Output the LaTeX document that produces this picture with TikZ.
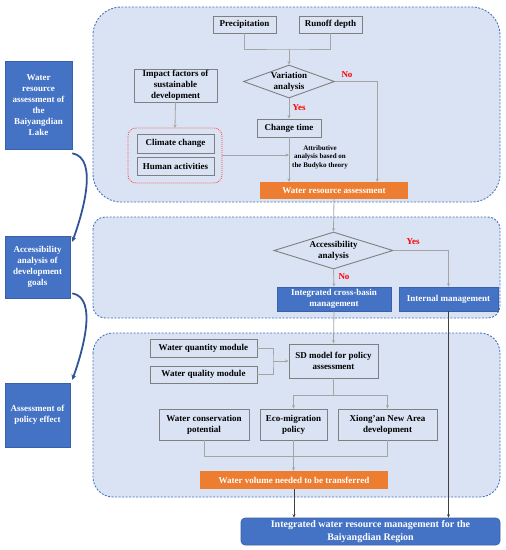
\documentclass[tikz,border=0pt]{standalone}
\usepackage{fontspec}
\setmainfont{Liberation Serif}
\usetikzlibrary{shapes.geometric,arrows.meta}
\definecolor{panelfill}{HTML}{DAE3F3}
\definecolor{panelline}{HTML}{4472C4}
\definecolor{boxblue}{HTML}{4472C4}
\definecolor{boxorange}{HTML}{ED7D31}
\definecolor{boxline}{HTML}{7F7F7F}
\definecolor{linkgray}{HTML}{A5A5A5}
\definecolor{curvblue}{HTML}{2F5597}
\tikzset{
  panel/.style={draw=panelline, fill=panelfill, line width=0.9pt, dash pattern=on 2pt off 1.5pt},
  gbox/.style={draw=boxline, fill=panelfill, line width=0.9pt, inner sep=0pt, align=center, font=\fontsize{9}{11}\selectfont\bfseries},
  bbox/.style={fill=boxblue, draw=boxblue!85!black, line width=0.6pt, text=white, inner sep=0pt, align=center, font=\fontsize{9}{11}\selectfont\bfseries},
  obox/.style={fill=boxorange, inner sep=0pt, text=white, font=\fontsize{9}{11}\selectfont\bfseries},
  dia/.style={diamond, draw=boxline, fill=panelfill, line width=0.9pt, inner sep=0pt},
  dtext/.style={align=center, font=\fontsize{9}{11}\selectfont\bfseries},
  yesno/.style={text=red, font=\fontsize{9}{11}\selectfont\bfseries},
  link/.style={draw=linkgray, line width=0.8pt},
  arr/.style={link, -{Stealth[length=3.5pt, width=3pt]}},
  darr/.style={draw=black!75, line width=0.8pt, -{Stealth[length=3.5pt, width=3pt]}},
  curv/.style={draw=curvblue, line width=1.8pt, -{Stealth[length=5pt, width=5pt]}},
}
\begin{document}
\begin{tikzpicture}[x=1pt, y=-1pt]
\useasboundingbox (0,0) rectangle (506,550);
\pgfmathsetmacro{\pl}{93}
\pgfmathsetmacro{\pr}{500}
% three panels
  \draw[panel, rounded corners=28pt] (\pl,7) rectangle (\pr,202);
  \draw[panel, rounded corners=12pt] (\pl,217) rectangle (\pr,318);
  \draw[panel, rounded corners=20pt] (\pl,333) rectangle (\pr,497);
% left column
  \node[bbox, minimum width=67pt, minimum height=88pt] (left1) at (38.5,105) {Water\\resource\\assessment of\\the\\Baiyangdian\\Lake};
  \node[bbox, minimum width=65pt, minimum height=62pt] (left2) at (37.5,267) {Accessibility\\analysis of\\development\\goals};
  \node[bbox, minimum width=65pt, minimum height=64pt] (left3) at (37.5,415) {Assessment of\\policy effect};
  \draw[curv] ([xshift=0pt, yshift=-4pt]left1.south east) to[out=-10, in=70, looseness=0.8] ([xshift=2pt, yshift=-6pt]left2.north east);
  \draw[curv] ([xshift=2pt, yshift=5pt]left2.south east) to[out=-10, in=70, looseness=0.8] ([xshift=2pt, yshift=3pt]left3.north east);
% top panel
  \node[gbox, minimum width=63pt, minimum height=17pt] (prec) at (244.5,24.5) {Precipitation};
  \node[gbox, minimum width=63pt, minimum height=17pt] (runoff) at (330.5,24.5) {Runoff depth};
  \node[dia, minimum width=91pt, minimum height=33pt, label={[dtext]center:{Variation\\analysis}}] (var) at (289,81.5) {};
  \node[gbox, minimum width=64pt, minimum height=18pt] (change) at (289,128) {Change time};
  \node[gbox, minimum width=83pt, minimum height=33pt] (impact) at (175.5,85.5) {Impact factors of\\sustainable\\development};
  \draw[draw=red!70, line width=0.8pt, dash pattern=on 1pt off 1pt, rounded corners=8pt] (128,128) rectangle (222,183);
  \coordinate (group) at (175,128);
  \coordinate (groupe) at (222,155);
  \node[gbox, minimum width=77pt, minimum height=19pt] (climate) at (175.5,143.5) {Climate change};
  \node[gbox, minimum width=77pt, minimum height=18pt] (human) at (175.5,166) {Human activities};
  \node[align=center, font=\fontsize{7}{8.5}\selectfont\bfseries] (budyko) at (320,157) {Attributive\\analysis based on\\the Budyko theory};
  \node[obox, minimum width=148pt, minimum height=17pt] (wra) at (334,190.5) {Water resource assessment};
  \node[yesno] (no1) at (347,75) {No};
  \node[yesno] (yes1) at (299,108) {Yes};
  \coordinate (join1) at (289,49);
  \draw[link] (prec) |- (join1) -| (runoff);
  \draw[arr] (join1) -- (var.north);
  \draw[arr] (var.east) -| ([xshift=-31pt]wra.north east);
  \draw[arr] (var.south) -- (change.north);
  \draw[arr] (change.south) -- (change |- wra.north);
  \draw[arr] (impact.south) -- (group);
  \draw[arr] (groupe) -- (groupe -| change.center);
% middle panel
  \node[dia, minimum width=119pt, minimum height=37pt, label={[dtext]center:{Accessibility\\analysis}}] (acc) at (333.5,250.5) {};
  \node[bbox, minimum width=114pt, minimum height=24pt] (integ) at (334,299) {Integrated cross-basin\\management};
  \node[bbox, minimum width=99pt, minimum height=24pt] (internal) at (448.5,299) {Internal management};
  \node[yesno] (yes2) at (413,242) {Yes};
  \node[yesno] (no2) at (344,277) {No};
  \draw[arr] (wra.south) -- (acc.north);
  \draw[arr] (acc.east) -| (internal.north);
  \draw[arr] (acc.south) -- (integ.north);
% bottom panel
  \node[gbox, minimum width=89pt, minimum height=34pt] (sd) at (333.5,361) {SD model for policy\\assessment};
  \node[gbox, minimum width=107pt, minimum height=18pt] (quant) at (203.5,348) {Water quantity module};
  \node[gbox, minimum width=107pt, minimum height=17pt] (qual) at (203.5,374.5) {Water quality module};
  \node[gbox, minimum width=90pt, minimum height=31pt] (cons) at (204,424.5) {Water conservation\\potential};
  \node[gbox, minimum width=67pt, minimum height=31pt] (eco) at (293.5,424.5) {Eco-migration\\policy};
  \node[gbox, minimum width=99pt, minimum height=31pt] (xiong) at (387.5,424.5) {Xiong'an New Area\\development};
  \node[obox, minimum width=188pt, minimum height=18pt] (vol) at (294,480) {Water volume needed to be transferred};
  \draw[arr] (integ.south) -- (sd.north);
  \coordinate (mjoin) at (273,361);
  \draw[link] (quant) -| (mjoin) |- (qual);
  \draw[arr] (mjoin) -- (sd.west);
  \draw[link] (sd.south) -- ++(0,17) coordinate (split);
  \draw[arr] (split) -| (eco.north);
  \draw[arr] (split) -| (xiong.north);
  \draw[link] (cons.south) -- ++(0,16) -| (xiong.south);
  \draw[arr] (eco.south) -- (eco |- vol.north);
% final box
  \node[bbox, rounded corners=4pt, minimum width=259pt, minimum height=27pt, font=\fontsize{10}{12.5}\selectfont\bfseries] (final) at (370.5,531.5) {Integrated water resource management for the\\Baiyangdian Region};
  \draw[darr] (vol.south) -- (vol |- final.north);
  \draw[darr] (internal.south) -- (internal |- final.north);
\end{tikzpicture}
\end{document}
